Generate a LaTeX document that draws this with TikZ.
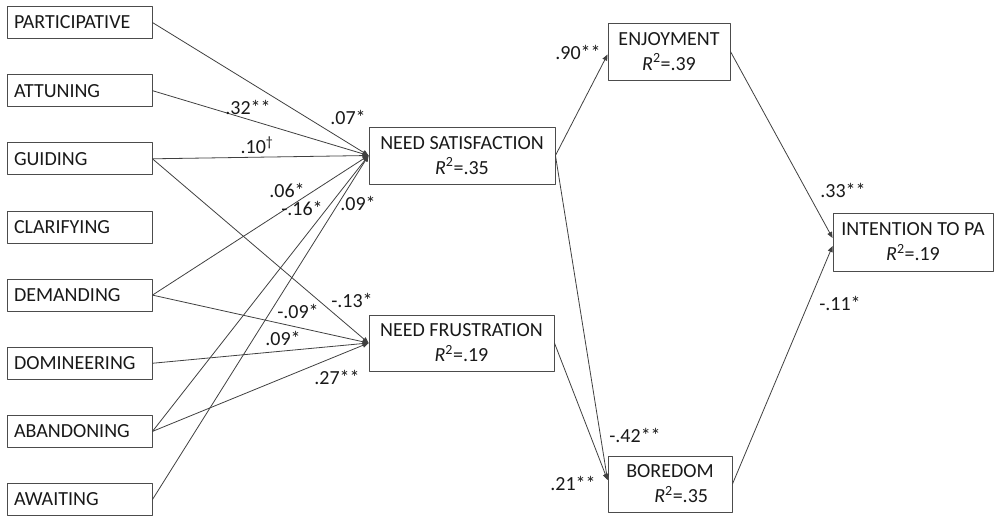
\documentclass[tikz,border=0pt]{standalone}
\usepackage{fontspec}
\setmainfont{Carlito}
\usepackage{tikz}
\usetikzlibrary{positioning,calc,arrows.meta}

\newcommand{\rsq}[1]{\textit{R}\textsuperscript{2}=#1}

\begin{document}
\begin{tikzpicture}[
				x=1pt,y=-1pt,
				line cap=round,line join=round,
				font=\fontsize{20}{25}\selectfont,
				box/.style={draw=black!70, line width=0.9pt, text=black!90, inner sep=0pt},
				leftbox/.style={box, minimum width=145pt, minimum height=32pt,
					text width=131pt, align=left},
				varbox/.style={box, align=center, minimum height=57pt},
				conn/.style={draw=black!75, line width=0.8pt,
					-{Triangle[length=6pt,width=5pt]}},
				coef/.style={text=black!90, inner sep=0pt}
				]
				% ---- parameters
				\def\boxX{79.5}
				\def\topY{22.5}
				\def\rowH{68.15}
				
				% frame
				\useasboundingbox (0,0) rectangle (995,515);
				
				% coaching styles
				\foreach \nm/\txt [count=\i from 0] in {part/PARTICIPATIVE, attu/ATTUNING,
					guid/GUIDING, clar/CLARIFYING, dema/DEMANDING, domi/DOMINEERING,
					aban/ABANDONING, awai/AWAITING}{
					\pgfmathsetmacro{\yc}{\topY+\i*\rowH}
					\node[leftbox] (\nm) at (\boxX, \yc) {\txt};
				}
				
				% needs and outcomes
				\node[varbox, minimum width=186pt] (ns) at (462,155.5) {NEED SATISFACTION\\\rsq{.35}};
				\node[varbox, minimum width=185pt, minimum height=56pt] (nf) at (461.5,343) {NEED FRUSTRATION\\\rsq{.19}};
				\node[varbox, minimum width=122pt] (enj) at (669,51.5) {ENJOYMENT\\\rsq{.39}};
				\node[varbox, minimum width=124pt, minimum height=56pt, align=left] (bor) at (670,484) {BOREDOM\\\hspace*{28pt}\rsq{.35}};
				\node[varbox, minimum width=160pt, minimum height=58pt] (int) at (913,242) {INTENTION TO PA\\\rsq{.19}};
				
				% paths
				\foreach \a/\b in {part/ns, attu/ns, guid/ns, guid/nf, dema/ns, dema/nf,
					domi/nf, aban/ns, aban/nf, awai/ns}{
					\draw[conn] (\a.east) -- (\b.west);
				}
				\draw[conn] (ns.east) -- ($(enj.west)+(0,3)$);
				\draw[conn] (ns.east) -- ($(bor.west)+(0,-4)$);
				\draw[conn] (nf.east) -- ($(bor.west)+(0,-4)$);
				\draw[conn] (enj.east) -- ($(int.west)+(0,-4)$);
				\draw[conn] (bor.east) -- ($(int.west)+(0,4)$);
				
				% coefficients
				\node[coef] (c07) at (348,117) {.07*};
				\node[coef] (c32) at (248,107) {.32**};
				\node[coef] (c10) at (257,145) {.10\textsuperscript{\textdagger}};
				\node[coef] (c06) at (287,190) {.06*};
				\node[coef] (c16) at (302,208) {-.16*};
				\node[coef] (c09a) at (358,203) {.09*};
				\node[coef] (c13) at (352,300) {-.13*};
				\node[coef] (c09b) at (298,311) {-.09*};
				\node[coef] (c09c) at (283,338) {.09*};
				\node[coef] (c27) at (337,377) {.27**};
				\node[coef] (c90) at (578,52) {.90**};
				\node[coef] (c42) at (635,435) {-.42**};
				\node[coef] (c21) at (573,483) {.21**};
				\node[coef] (c33) at (843,190) {.33**};
				\node[coef] (c11) at (840,303) {-.11*};
			\end{tikzpicture}
\end{document}
